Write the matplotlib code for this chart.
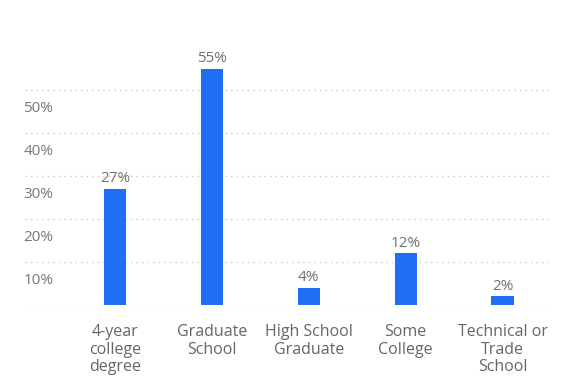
import matplotlib
matplotlib.use("Agg")
import matplotlib.pyplot as plt
import matplotlib.transforms as mtransforms

categories = ["4-year\ncollege\ndegree", "Graduate\nSchool", "High School\nGraduate",
              "Some\nCollege", "Technical or\nTrade\nSchool"]
values = [27, 55, 4, 12, 2]
yticks = [0, 10, 20, 30, 40, 50]
ytick_labels = ["", "10%", "20%", "30%", "40%", "50%"]

plt.rcParams['font.family'] = ['Open Sans', 'DejaVu Sans']

fig = plt.figure(figsize=(5.63, 3.77), dpi=100)
ax = fig.add_axes([0.044, 0.191, 0.933, 0.707])

x = list(range(len(values)))
ax.bar(x, values, width=0.23, color="#1f6ff2", zorder=3)

for xi, v in zip(x, values):
    ax.annotate(f"{v}%", (xi, v), xytext=(0, 2), textcoords="offset points",
                ha="center", va="bottom", fontsize=11, color="#707070")

ax.set_xlim(-0.93, 4.49)
ax.set_ylim(0, 62)
ax.set_yticks(yticks)
ax.set_yticklabels(ytick_labels, fontsize=11, color="#777777")
ax.tick_params(axis="y", length=0, pad=1)
for lab in ax.get_yticklabels():
    lab.set_horizontalalignment("left")
    lab.set_transform(lab.get_transform() +
                      mtransforms.ScaledTranslation(0.0, -0.16, fig.dpi_scale_trans))

ax.set_xticks(x)
ax.set_xticklabels(categories, fontsize=11.5, color="#666666", linespacing=1.1)
ax.tick_params(axis="x", length=0, pad=14)

ax.grid(axis="y", color="#c9c9c9", linestyle=(0, (1, 3)), linewidth=1, zorder=0)
for s in ax.spines.values():
    s.set_visible(False)

fig.savefig("out.png", dpi=100)
